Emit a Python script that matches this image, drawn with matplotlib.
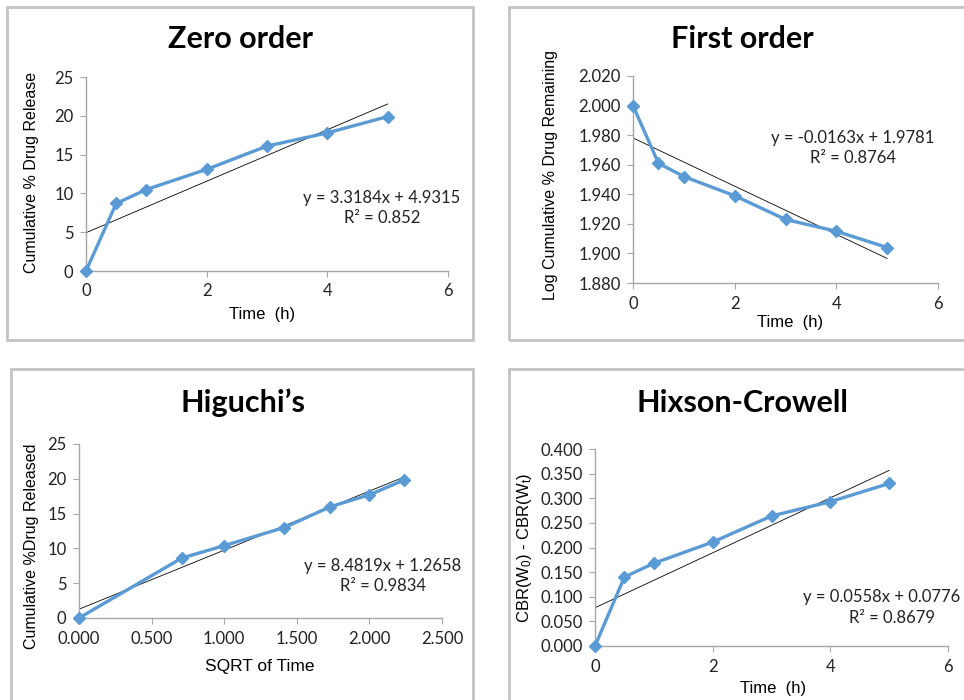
import matplotlib
matplotlib.use("Agg")
import matplotlib.pyplot as plt
from matplotlib.patches import Rectangle
from matplotlib.ticker import FormatStrFormatter
import numpy as np

# ----------------------------------
# Data
# ----------------------------------
time_h = [0, 0.5, 1, 2, 3, 4, 5]
sqrt_time = [0.000, 0.707, 1.000, 1.414, 1.732, 2.000, 2.236]

zero_release = [0, 8.7, 10.5, 13.1, 16.1, 17.8, 19.9]
first_log_remaining = [2.000, 1.961, 1.952, 1.939, 1.923, 1.915, 1.904]
higuchi_release = [0, 8.6, 10.4, 13.0, 16.0, 17.7, 19.8]
hixson_cbr = [0.000, 0.140, 0.168, 0.211, 0.264, 0.293, 0.330]

# trendline coefficients (slope, intercept) and R² as printed on the charts
zero_fit = (3.3184, 4.9315, "0.852")
first_fit = (-0.0163, 1.9781, "0.8764")
higuchi_fit = (8.4819, 1.2658, "0.9834")
hixson_fit = (0.0558, 0.0776, "0.8679")

W, H = 964, 700
BLUE = "#5b9bd5"
GRAY = "#a6a6a6"

plt.rcParams["mathtext.fontset"] = "custom"
plt.rcParams["mathtext.rm"] = "Liberation Sans"
plt.rcParams["mathtext.it"] = "Liberation Sans"

fig = plt.figure(figsize=(W / 100, H / 100), dpi=100)


def fx(px):
    return px / W


def fy(py):
    return 1 - py / H


def panel_box(x0, y0, x1, y1):
    fig.patches.append(Rectangle((fx(x0), fy(y1)), fx(x1 - x0), (y1 - y0) / H,
                                 transform=fig.transFigure, fill=False,
                                 edgecolor="#c3c3c3", lw=2, clip_on=False))


def make_axes(left, top, right, bottom):
    ax = fig.add_axes([fx(left), fy(bottom), fx(right - left), (bottom - top) / H])
    for s in ["top", "right"]:
        ax.spines[s].set_visible(False)
    for s in ["left", "bottom"]:
        ax.spines[s].set_color(GRAY)
        ax.spines[s].set_linewidth(1)
    ax.tick_params(direction="out", length=4, color=GRAY, labelsize=12,
                   labelcolor="#222222", pad=5)
    return ax


def draw(ax, x, y, fit):
    slope, icpt, _ = fit
    xs = np.array([x[0], x[-1]])
    ax.plot(xs, slope * xs + icpt, color="black", lw=0.6, zorder=2)
    ax.plot(x, y, color=BLUE, lw=2.4, marker="D", markersize=6, zorder=3,
            clip_on=False)


def eq_text(cx, cy, fit, dy=20, r2_cx=None):
    slope, icpt, r2 = fit
    sign = "-" if slope < 0 else ""
    fig.text(fx(cx), fy(cy), f"y = {sign}{abs(slope):.4f}x + {icpt:.4f}",
             ha="center", va="center", family="Lato", fontsize=12, color="#222222")
    fig.text(fx(r2_cx if r2_cx else cx), fy(cy + dy), f"R² = {r2}",
             ha="center", va="center", family="Lato", fontsize=12, color="#222222")


def title(cx, cy, s):
    fig.text(fx(cx), fy(cy), s, ha="center", va="center", family="Lato",
             fontweight="bold", fontsize=22, color="black")


def label(cx, cy, s, rot=0, size=11.5):
    fig.text(fx(cx), fy(cy), s, ha="center", va="center", family="Liberation Sans",
             fontsize=size, rotation=rot, color="black")


# ---- Zero order ----
panel_box(7, 7, 473, 340)
ax1 = make_axes(86, 77, 448, 271)
draw(ax1, time_h, zero_release, zero_fit)
ax1.set_xlim(0, 6)
ax1.set_ylim(0, 25)
ax1.set_xticks([0, 2, 4, 6])
ax1.set_yticks([0, 5, 10, 15, 20, 25])
title(240, 39, "Zero order")
label(32, 172, "Cumulative % Drug Release", rot=90)
label(262, 315, "Time  (h)", size=12)
eq_text(382, 198, zero_fit)

# ---- First order ----
panel_box(509, 7, 1000, 340)
ax2 = make_axes(633, 76, 938, 283)
draw(ax2, time_h, first_log_remaining, first_fit)
ax2.set_xlim(0, 6)
ax2.set_ylim(1.88, 2.02)
ax2.set_xticks([0, 2, 4, 6])
ax2.set_yticks(np.arange(1.88, 2.0201, 0.02))
ax2.yaxis.set_major_formatter(FormatStrFormatter("%.3f"))
title(742, 39, "First order")
label(551, 175, "Log Cumulative % Drug Remaining", rot=90)
label(790, 322, "Time  (h)", size=12)
eq_text(853, 138, first_fit)

# ---- Higuchi ----
panel_box(11, 369, 473, 740)
ax3 = make_axes(79, 444, 442, 618)
draw(ax3, sqrt_time, higuchi_release, higuchi_fit)
ax3.set_xlim(0, 2.5)
ax3.set_ylim(0, 25)
ax3.set_xticks(np.arange(0, 2.501, 0.5))
ax3.set_yticks([0, 5, 10, 15, 20, 25])
ax3.xaxis.set_major_formatter(FormatStrFormatter("%.3f"))
title(243, 403, "Higuchi’s")
label(32, 546, "Cumulative %Drug Released", rot=90)
label(260, 667, "SQRT of Time", size=12.5)
eq_text(383, 566, higuchi_fit)

# ---- Hixson-Crowell ----
panel_box(509, 369, 1000, 740)
ax4 = make_axes(595, 449, 948, 646)
draw(ax4, time_h, hixson_cbr, hixson_fit)
ax4.set_xlim(0, 6)
ax4.set_ylim(0, 0.4)
ax4.set_xticks([0, 2, 4, 6])
ax4.set_yticks(np.arange(0, 0.4001, 0.05))
ax4.yaxis.set_major_formatter(FormatStrFormatter("%.3f"))
title(742, 403, "Hixson-Crowell")
label(525, 548, r"CBR(W$_0$) - CBR(W$_t$)", rot=90, size=12)
label(773, 689, "Time  (h)", size=12)
eq_text(882, 597, hixson_fit, dy=21, r2_cx=892)

for ax in (ax1, ax2, ax3, ax4):
    for lab in ax.get_xticklabels() + ax.get_yticklabels():
        lab.set_family("Lato")

fig.savefig("out.png", dpi=100)
